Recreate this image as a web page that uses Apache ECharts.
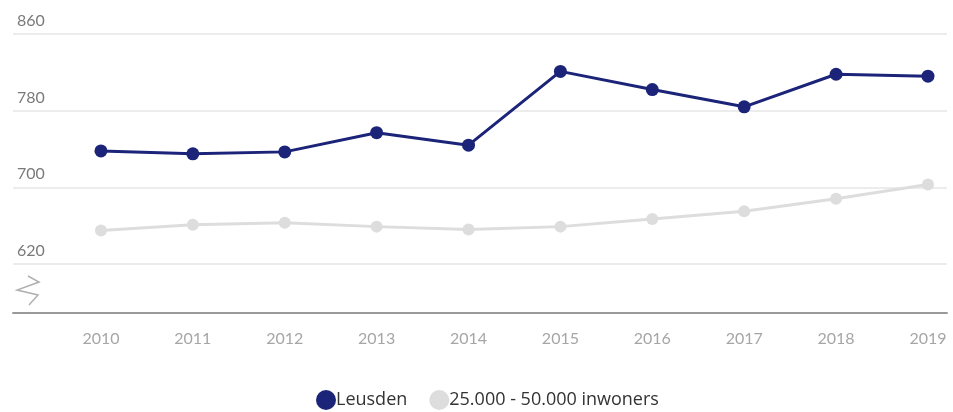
<!DOCTYPE html>
<html><head><meta charset="utf-8">
<script src="https://cdn.jsdelivr.net/npm/echarts@6/dist/echarts.min.js"></script>
<style>html,body{margin:0;padding:0;background:#fff}#c{width:953px;height:412px}</style>
</head><body><div id="c"></div>
<script>
var years = [2010, 2011, 2012, 2013, 2014, 2015, 2016, 2017, 2018, 2019];
var leusden = [738, 735, 737, 757, 744, 821, 802, 784, 818, 816];
var klasse = [655, 661, 663, 659, 656, 659, 667, 675, 688, 703];
var yTicks = [620, 700, 780, 860];

function pairs(v){ return years.map(function(y,i){ return [y, v[i]]; }); }

var chart = echarts.init(document.getElementById('c'));
chart.setOption({
  animation: false,
  textStyle: { fontFamily: 'Lato, sans-serif' },
  grid: { left: 13, right: 6, top: 34, bottom: 148 },
  xAxis: {
    type: 'value', min: 2009.043, max: 2019.207,
    offset: 49,
    axisLine: { show: true, lineStyle: { color: '#9a9a9a', width: 2 } },
    axisTick: { show: false },
    splitLine: { show: false },
    axisLabel: { customValues: years, color: '#a6a6a6', fontSize: 16, margin: 18,
      formatter: function(v){ return String(Math.round(v)); } }
  },
  yAxis: {
    type: 'value', min: yTicks[0], max: yTicks[yTicks.length-1], interval: 80,
    axisLine: { show: false }, axisTick: { show: false },
    splitLine: { lineStyle: { color: '#e6e6e6', width: 1.5 } },
    axisLabel: { inside: true, margin: 4, verticalAlign: 'bottom', padding: [0,0,5,0],
      color: '#7a7a7a', fontSize: 16 }
  },
  legend: {
    bottom: -3, left: 311, itemGap: 22, itemWidth: 20, itemHeight: 20,
    icon: 'circle',
    textStyle: { color: '#333', fontSize: 18, fontFamily: 'Open Sans, sans-serif', padding: [0,0,0,-5] },
    data: ['Leusden', '25.000 - 50.000 inwoners']
  },
  graphic: [{
    type: 'polyline', silent: true,
    shape: { points: [[28,276],[39,282],[17,290],[38,295],[29,305]] },
    style: { stroke: '#b0b0b0', lineWidth: 1.5, fill: null }
  }],
  series: [{
    name: '25.000 - 50.000 inwoners', type: 'line', data: pairs(klasse),
    symbol: 'circle', symbolSize: 12,
    itemStyle: { color: '#dddddd' }, lineStyle: { color: '#dddddd', width: 3 }
  }, {
    name: 'Leusden', type: 'line', data: pairs(leusden),
    symbol: 'circle', symbolSize: 13,
    itemStyle: { color: '#1c2479' }, lineStyle: { color: '#1c2479', width: 3 }
  }]
});
</script></body></html>
